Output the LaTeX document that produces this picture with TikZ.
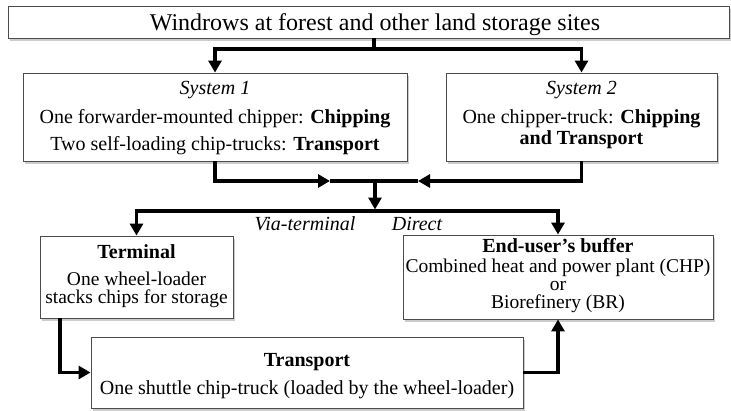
\documentclass[tikz,border=0pt]{standalone}
\usepackage{fontspec}
\setmainfont{Liberation Serif}
\usetikzlibrary{arrows.meta,shadows}
\begin{document}
\begin{tikzpicture}[x=1pt,y=-1pt,
  box/.style={draw=black!70, line width=0.9pt, fill=white, inner sep=0pt,
    drop shadow={shadow xshift=2pt,shadow yshift=-2.5pt,opacity=0.4}},
  txt/.style={anchor=base, inner sep=0pt, font=\fontsize{20}{20}\selectfont},
  tight/.style={txt, align=center, font=\fontsize{19.5}{18}\selectfont},
  flowline/.style={line width=3.5pt},
  flow/.style={line width=3.5pt, -{Triangle[length=12pt,width=13pt]}},
]
\useasboundingbox (0,0) rectangle (731,410);
% boxes
\node[box, minimum width=721pt, minimum height=32pt] (top) at (368.5,22) {};
\node[box, minimum width=384pt, minimum height=88pt] (sys1) at (215,117) {};
\node[box, minimum width=271pt, minimum height=88pt] (sys2) at (581.5,117) {};
\node[box, minimum width=193pt, minimum height=82pt] (term) at (136.5,277) {};
\node[box, minimum width=310pt, minimum height=84pt] (endu) at (558,277) {};
\node[box, minimum width=432pt, minimum height=71pt] (trans) at (307,372.5) {};
% junctions
\coordinate (j1) at (374,49);
\coordinate (m1) at (330,181);
\coordinate (m2) at (418,181);
\coordinate (j2) at (375,181);
\coordinate (j3) at (375,211);
% connectors
\draw[flowline] (top.south -| j1) -- (j1);
\draw[flow] (j1) -| (sys1.north);
\draw[flow] (j1) -| (sys2.north);
\draw[flow] (sys1.south) |- (m1);
\draw[flow] (sys2.south) |- (m2);
\draw[flowline] (m1) -- (m2);
\draw[flow, shorten >=1.5pt] (j2) -- (j3);
\draw[flow] (j3) -| (term.north);
\draw[flow] (j3) -| (endu.north);
\draw[flow] ([xshift=-76.5pt]term.south) |- (trans.west);
\draw[flow] (trans.east) -| (endu.south);
% texts
\node[txt, font=\fontsize{24}{24}\selectfont] (ttl) at (375,30) {Windrows at forest and other land storage sites};
\node[txt] (s1a) at (215,94) {\itshape System 1};
\node[txt] (s1b) at (215,123) {One forwarder-mounted chipper: \textbf{Chipping}};
\node[txt] (s1c) at (215,150) {Two self-loading chip-trucks: \textbf{Transport}};
\node[txt] (s2a) at (581.5,94) {\itshape System 2};
\node[txt, align=center, font=\fontsize{20}{21}\selectfont] (s2b) at (581.5,144) {One chipper-truck: \textbf{Chipping}\\\textbf{and Transport}};
\node[txt] (via) at (305,230) {\itshape Via-terminal};
\node[txt] (dir) at (417,230) {\itshape Direct};
\node[txt] (ta) at (136.5,258) {\textbf{Terminal}};
\node[tight] (tb) at (136.5,303) {One wheel-loader\\stacks chips for storage};
\node[txt] (ea) at (558,252) {\textbf{End-user’s buffer}};
\node[tight] (eb) at (558,308) {Combined heat and power plant (CHP)\\or\\Biorefinery (BR)};
\node[txt] (ra) at (307,366) {\textbf{Transport}};
\node[txt] (rb) at (307,394) {One shuttle chip-truck (loaded by the wheel-loader)};
\end{tikzpicture}
\end{document}
